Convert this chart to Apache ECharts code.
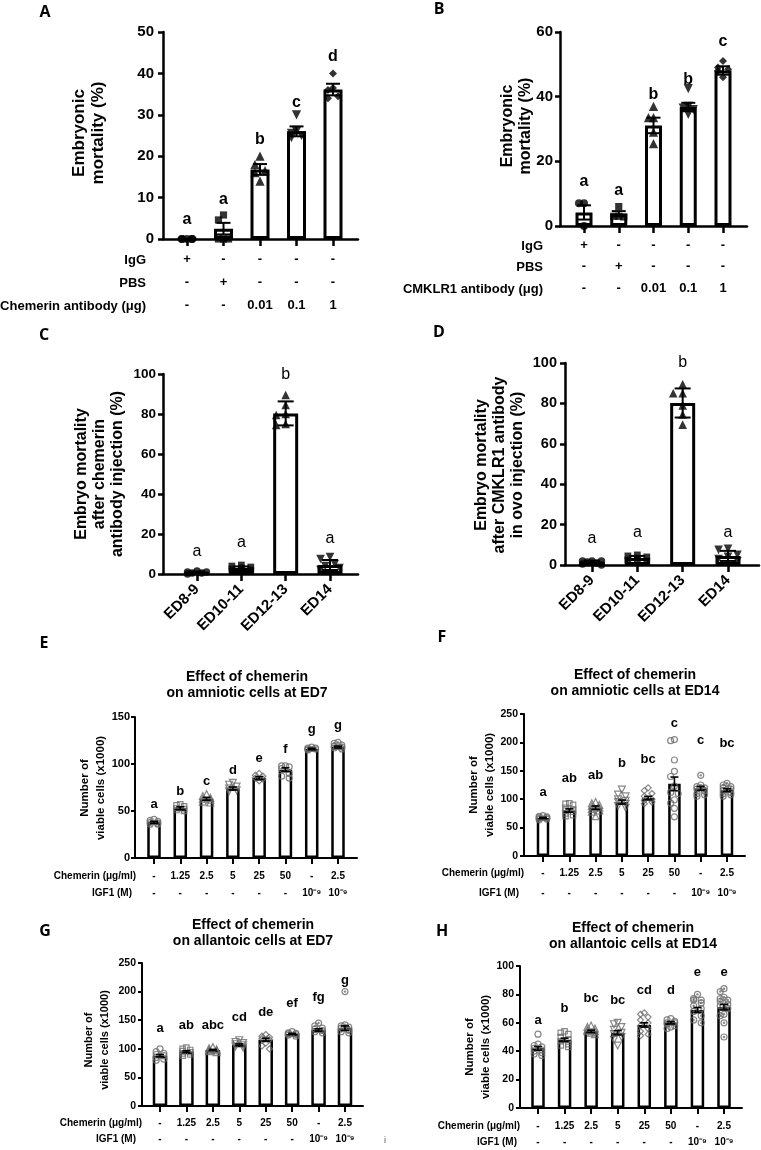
<!DOCTYPE html>
<html><head><meta charset="utf-8">
<script src="https://cdn.jsdelivr.net/npm/echarts@6.0.0/dist/echarts.min.js"></script>
<style>html,body{margin:0;padding:0;background:#fff}#c{width:761px;height:1150px}</style>
</head><body><div id="c"></div>
<script>
// ---------------- DATA ----------------
// Panel A
const aIgG = ['+','-','-','-','-'];
const aPBS = ['-','+','-','-','-'];
const aDose = ['-','-','0.01','0.1','1'];
const aMean = [0, 2.5, 16.8, 26.0, 36.1];
const aSem = [0, 1.4, 1.3, 1.2, 1.4];
const aPoints = [[0,0,0,0,0],[5.8,4.6,0,0,0],[20,18,16.5,16,14],[30,26,25.5,25,24.5],[40,36.5,36,34.5,34]];
const aLetters = ['a','a','b','c','d'];
const aLetterY = [4.6, 9.4, 23.9, 32.9, 44];
// Panel B
const bIgG = ['+','-','-','-','-'];
const bPBS = ['-','+','-','-','-'];
const bDose = ['-','-','0.01','0.1','1'];
const bMean = [4.2, 3.8, 31.1, 36.8, 48.1];
const bSem = [2.2, 0.8, 2.4, 1.3, 1.3];
const bPoints = [[7,7,0],[6,3,3,2.8],[37,33.5,33.5,29,25.5],[42.5,37,36.5,36,34.5],[51,49,48.5,48,46]];
const bLetters = ['a','a','b','b','c'];
const bLetterY = [13.6, 11.1, 40.5, 45.2, 56.9];
// Panel C
const cCats = ['ED8-9','ED10-11','ED12-13','ED14'];
const cMean = [0.8, 3, 80.3, 4.5];
const cSem = [0.4, 0.8, 6, 2.5];
const cPoints = [[1.5,1,1,0.5,0.5,0],[4.5,4,3.5,3,2.5,2],[89.5,84.5,80,79.5,75,74.5],[8.5,7.5,5,4,3,2]];
const cLetters = ['a','a','b','a'];
const cLetterY = [11, 15.5, 99.5, 17.5];
// Panel D
const dCats = ['ED8-9','ED10-11','ED12-13','ED14'];
const dMean = [1.5, 3.5, 80.2, 4.5];
const dSem = [0.6, 1, 7.2, 2.5];
const dPoints = [[2,2,2,1.5,1,0.5,0],[5,4.5,4,3,2.5,2],[89.5,85,85,79,74.5,69.5],[8,7.5,5,4,3,2]];
const dLetters = ['a','a','b','a'];
const dLetterY = [12.9, 15.8, 100, 15.8];
// Panels E-H shared rows
const chemDose = ['-','1.25','2.5','5','25','50','-','2.5'];
const igf1Dose = ['-','-','-','-','-','-','10⁻⁹','10⁻⁹'];
// Panel E
const eMean = [38, 53, 63, 74, 85, 94, 116, 118];
const eSem = [1, 1.5, 1.5, 1.5, 1.5, 2, 0.8, 1];
const ePoints = [[41,40,39,38,37,36,36],[57,56,55,53,52,51,50],[68,66,64,63,62,60,59],[80,78,76,74,72,71],[90,88,87,85,84,82],[98,98,97,95,90,87,85],[118,117,117,116,116,115],[123,122,120,119,118,117,116]];
const eLetters = ['a','b','c','d','e','f','g','g'];
const eLetterY = [57.4, 71.3, 81.9, 93.6, 106, 115, 137, 141.5];
// Panel F
const fMean = [67, 80, 85, 95, 102, 127, 119, 116];
const fSem = [1, 3, 3, 3.5, 3, 12, 3.5, 2.5];
const fPoints = [[71,70,69,68,67,66,65,64],[93,92,90,85,82,80,78,75,72,70],[95,93,90,88,85,83,80,78,70],[117,108,105,100,97,95,92,88,85],[120,115,110,105,100,98,95,92],[205,203,169,149,140,123,112,110,99,93,84,69],[142,125,122,120,118,115,110,108,105],[128,125,122,120,118,115,112,110,108,105]];
const fLetters = ['a','ab','ab','b','bc','c','c','bc'];
const fLetterY = [112.7, 137, 142.6, 163.7, 170.8, 234, 204, 199];
// Panel G
const gMean = [88, 95, 98, 107, 116, 126, 133, 136];
const gSem = [2, 1.5, 1, 1.5, 2.5, 1, 2, 4];
const gPoints = [[100,95,92,90,88,85,82,80],[102,100,98,96,94,92,90,88],[103,101,99,98,97,96,94],[115,112,110,108,106,104,102],[125,122,120,118,116,110,105,100],[130,128,127,126,125,124,122],[145,140,136,134,132,130,128],[200,142,140,138,136,133,130,128]];
const gLetters = ['a','ab','abc','cd','de','ef','fg','g'];
const gLetterY = [136, 141.6, 141.6, 155.6, 164, 180, 190.6, 220];
// Panel H
const hMean = [42, 48, 54, 53, 58.5, 60, 69, 71];
const hSem = [1.3, 1.2, 0.8, 1.5, 1.5, 0.8, 1.8, 2];
const hPoints = [[52,45,44,43,42,41,40,39,38,37],[54,53,52,50,48,47,45,44,43],[58,57,56,55,54,54,53,52],[60,59,57,55,53,52,50,48,44],[67,66,64,62,60,58,56,54,52,51],[63,62,61,60,60,59,58,57,56],[80,77,76,76,74,72,70,68,65,62,60],[84,82,78,77,76,75,73,72,70,66,65,60,50]];
const hLetters = ['a','b','bc','bc','cd','d','e','e'];
const hLetterY = [62, 70.4, 77.5, 76, 83, 83, 95.8, 95.8];

// ---------------- BUILD ----------------
const FONT = "'Liberation Sans', Arial, Helvetica, sans-serif";
const BLACK = '#000';
const grids = [], xAxes = [], yAxes = [], series = [], graphics = [];
const SYM = {circle:['circle',0], square:['rect',0], triangle:['triangle',0], invtri:['triangle',180], diamond:['diamond',0], circledot:['circle',0]};

function swarm(vals, ppu, d, maxOff) {
  const placed = [];
  return vals.map(v => {
    const y = v * ppu;
    let best = 0, bestCost = Infinity;
    for (let k = 0; k < 40; k++) {
      const off = k === 0 ? 0 : (k % 2 ? -1 : 1) * Math.ceil(k / 2) * d * 0.6;
      if (Math.abs(off) > maxOff) break;
      let cost = 0;
      for (const p of placed) {
        const dist = Math.hypot(off - p[0], y - p[1]);
        if (dist < d) cost += d - dist;
      }
      if (cost === 0) { best = off; bestCost = 0; break; }
      if (cost < bestCost) { bestCost = cost; best = off; }
    }
    placed.push([best, y]);
    return best;
  });
}

function addPanel(p) {
  const H = p.zero - p.top;
  const n = p.mean.length;
  const band = (p.cEnd - p.cStart) / (n - 1);
  const gF = grids.length;
  grids.push({left: p.yx, top: p.top, width: p.xEnd - p.yx, height: H, containLabel: false, outerBoundsMode: 'none'});
  const gD = grids.length;
  grids.push({left: p.cStart - band / 2, top: p.top, width: band * n, height: H, containLabel: false, outerBoundsMode: 'none'});
  xAxes.push({gridIndex: gF, type: 'value', min: 0, max: 1, position: 'bottom',
    axisLine: {show: true, onZero: false, lineStyle: {color: BLACK, width: p.lw}},
    axisTick: {show: false}, axisLabel: {show: false}, splitLine: {show: false}});
  yAxes.push({gridIndex: gF, type: 'value', min: 0, max: p.max, interval: p.interval, position: 'left',
    axisLine: {show: true, onZero: false, lineStyle: {color: BLACK, width: p.lw}},
    axisTick: {show: true, length: p.yTickLen, lineStyle: {color: BLACK, width: p.lw}},
    axisLabel: {color: BLACK, fontFamily: FONT, fontWeight: 'bold', fontSize: p.tickFs, margin: p.tickMargin},
    splitLine: {show: false}});
  const xi = xAxes.length;
  p.rows.forEach((row, r) => {
    xAxes.push({gridIndex: gD, type: 'category', data: row, position: 'bottom', offset: p.rowOffsets[r],
      axisLine: {show: false, onZero: false},
      axisTick: r === 0 ? {show: true, alignWithLabel: true, length: p.xTickLen, lineStyle: {color: BLACK, width: p.lw}} : {show: false},
      axisLabel: {interval: 0, color: BLACK, fontFamily: FONT, fontWeight: 'bold', fontSize: p.rowFs, margin: p.rowMargin, rotate: p.rotate || 0},
      splitLine: {show: false}});
  });
  const yi = yAxes.length;
  yAxes.push({gridIndex: gD, type: 'value', min: 0, max: p.max, show: false});

  series.push({type: 'bar', xAxisIndex: xi, yAxisIndex: yi, data: p.mean, barWidth: p.barW,
    itemStyle: {color: '#fff', borderColor: BLACK, borderWidth: p.bw}, z: 2, silent: true, animation: false});

  const pts = [], dots = [];
  const ppu = H / p.max;
  p.points.forEach((vals, i) => {
    const offs = swarm(vals, ppu, p.symSize * 1.05, p.maxOff);
    const m = p.markers[i];
    const [sym, rot] = SYM[m];
    const size = sym === 'triangle' ? p.symSize * 1.15 : (sym === 'rect' ? p.symSize * 0.9 : p.symSize);
    vals.forEach((v, k) => {
      pts.push({value: [i, v], symbol: sym, symbolRotate: rot, symbolSize: size, symbolOffset: [offs[k], 0],
        itemStyle: p.open ? {color: 'rgba(255,255,255,0)', borderColor: p.openColor, borderWidth: 1.2} : {color: BLACK, borderWidth: 0}});
      if (m === 'circledot') dots.push({value: [i, v], symbol: 'circle', symbolSize: 2.4, symbolOffset: [offs[k], 0], itemStyle: {color: p.openColor}});
    });
  });
  series.push({type: 'scatter', xAxisIndex: xi, yAxisIndex: yi, data: pts, z: 3, silent: true, animation: false});
  if (dots.length) series.push({type: 'scatter', xAxisIndex: xi, yAxisIndex: yi, data: dots, z: 3, silent: true, animation: false});

  series.push({type: 'custom', xAxisIndex: xi, yAxisIndex: yi, z: 4, silent: true, animation: false,
    dimensions: ['x', 'y', 'e'], encode: {x: 0, y: 1},
    data: p.mean.map((m, i) => [i, m, p.sem[i]]),
    renderItem: (params, api) => {
      const i = api.value(0), m = api.value(1), e = api.value(2);
      if (!e) return null;
      const t = api.coord([i, m + e]), b = api.coord([i, m - e]);
      const hw = p.capW / 2;
      const st = {stroke: BLACK, lineWidth: p.ebw};
      return {type: 'group', children: [
        {type: 'line', shape: {x1: t[0], y1: t[1], x2: b[0], y2: b[1]}, style: st},
        {type: 'line', shape: {x1: t[0] - hw, y1: t[1], x2: t[0] + hw, y2: t[1]}, style: st},
        {type: 'line', shape: {x1: b[0] - hw, y1: b[1], x2: b[0] + hw, y2: b[1]}, style: st}]};
    }});

  series.push({type: 'custom', xAxisIndex: xi, yAxisIndex: yi, z: 5, silent: true, animation: false,
    encode: {x: 0, y: 1},
    data: p.letterY.map((v, i) => [i, v]),
    renderItem: (params, api) => {
      const c = api.coord([api.value(0), api.value(1)]);
      return {type: 'text', x: c[0], y: c[1], style: {text: p.letters[params.dataIndex], font: p.letterFont, fill: BLACK,
        align: 'center', verticalAlign: 'middle', textAlign: 'center', textVerticalAlign: 'middle'}};
    }});
}

function txt(x, y, text, font, opts) {
  opts = opts || {};
  graphics.push({type: 'text', x: x, y: y, rotation: opts.rot || 0, silent: true,
    style: {text: text, font: font, fill: opts.fill || BLACK, lineHeight: opts.lh,
      align: opts.align || 'center', verticalAlign: 'middle', textAlign: opts.align || 'center', textVerticalAlign: 'middle'}});
}

const filled5 = ['circle','square','triangle','invtri','diamond'];
const filled4 = ['circle','square','triangle','invtri'];
const open8 = ['circle','square','triangle','invtri','diamond','circle','circledot','circledot'];

const bigCommon = {lw: 2.5, bw: 3, yTickLen: 5, xTickLen: 7, tickFs: 15, open: false, ebw: 2, capW: 14};
const smallCommon = {lw: 2, bw: 2.5, yTickLen: 4, xTickLen: 6, tickFs: 10.5, tickMargin: 6, rowFs: 10, open: true, openColor: '#6a6a6a', ebw: 1.6, capW: 8, symSize: 6, maxOff: 6, markers: open8, letterFont: 'bold 13px ' + FONT};

addPanel(Object.assign({}, bigCommon, {yx: 163, xEnd: 358, top: 32, zero: 239, max: 50, interval: 10, cStart: 187, cEnd: 333, barW: 19,
  tickMargin: 9, rows: [aIgG, aPBS, aDose], rowOffsets: [0, 23, 46], rowFs: 13, rowMargin: 14,
  mean: aMean, sem: aSem, points: aPoints, markers: filled5, symSize: 8, maxOff: 10,
  letters: aLetters, letterY: aLetterY, letterFont: 'bold 16px ' + FONT}));
addPanel(Object.assign({}, bigCommon, {yx: 560, xEnd: 747, top: 32, zero: 226, max: 60, interval: 20, cStart: 584, cEnd: 723, barW: 17,
  tickMargin: 7, rows: [bIgG, bPBS, bDose], rowOffsets: [0, 21, 43], rowFs: 13, rowMargin: 13,
  mean: bMean, sem: bSem, points: bPoints, markers: filled5, symSize: 8, maxOff: 10,
  letters: bLetters, letterY: bLetterY, letterFont: 'bold 16px ' + FONT}));
addPanel(Object.assign({}, bigCommon, {yx: 163, xEnd: 358, top: 374, zero: 574, max: 100, interval: 20, cStart: 197, cEnd: 330, barW: 25,
  tickFs: 13.5, tickMargin: 7, rows: [cCats], rowOffsets: [0], rowFs: 15, rowMargin: 13, rotate: 45, capW: 16,
  mean: cMean, sem: cSem, points: cPoints, markers: filled4, symSize: 7.5, maxOff: 12,
  letters: cLetters, letterY: cLetterY, letterFont: '16px ' + FONT}));
addPanel(Object.assign({}, bigCommon, {yx: 565, xEnd: 759, top: 363, zero: 565, max: 100, interval: 20, cStart: 592, cEnd: 728, barW: 25,
  tickFs: 14.5, tickMargin: 8, rows: [dCats], rowOffsets: [0], rowFs: 15, rowMargin: 13, rotate: 45, capW: 16,
  mean: dMean, sem: dSem, points: dPoints, markers: filled4, symSize: 7.5, maxOff: 12,
  letters: dLetters, letterY: dLetterY, letterFont: '16px ' + FONT}));
addPanel(Object.assign({}, smallCommon, {yx: 135, xEnd: 357, top: 717, zero: 858, max: 150, interval: 50, cStart: 154, cEnd: 338, barW: 13.5,
  tickFs: 11, tickMargin: 5, rows: [chemDose, igf1Dose], rowOffsets: [0, 17], rowMargin: 13,
  mean: eMean, sem: eSem, points: ePoints, letters: eLetters, letterY: eLetterY}));
addPanel(Object.assign({}, smallCommon, {yx: 524, xEnd: 745, top: 714, zero: 856, max: 250, interval: 50, cStart: 543, cEnd: 727, barW: 12.5,
  rows: [chemDose, igf1Dose], rowOffsets: [0, 20], rowMargin: 12,
  mean: fMean, sem: fSem, points: fPoints, letters: fLetters, letterY: fLetterY}));
addPanel(Object.assign({}, smallCommon, {yx: 142, xEnd: 363, top: 963, zero: 1106, max: 250, interval: 50, cStart: 160, cEnd: 345, barW: 14.5,
  rows: [chemDose, igf1Dose], rowOffsets: [0, 16], rowMargin: 12,
  mean: gMean, sem: gSem, points: gPoints, letters: gLetters, letterY: gLetterY}));
addPanel(Object.assign({}, smallCommon, {yx: 520, xEnd: 742, top: 966, zero: 1108, max: 100, interval: 20, cStart: 538, cEnd: 724, barW: 13.5,
  rows: [chemDose, igf1Dose], rowOffsets: [0, 16], rowMargin: 13,
  mean: hMean, sem: hSem, points: hPoints, letters: hLetters, letterY: hLetterY}));

// panel letters
const PL = "bold 16px 'Open Sans', 'Noto Sans', sans-serif";
txt(45, 12, 'A', PL); txt(439, 9, 'B', PL); txt(44, 335, 'C', PL); txt(439, 332, 'D', PL);
txt(44, 643, 'E', PL); txt(442, 637, 'F', PL); txt(45, 931, 'G', PL); txt(442, 931, 'H', PL);
// y titles
const R = Math.PI / 2;
txt(89, 133, 'Embryonic\nmortality (%)', 'bold 17px ' + FONT, {rot: R, lh: 19});
txt(517, 126, 'Embryonic\nmortality (%)', 'bold 16px ' + FONT, {rot: R, lh: 18});
txt(100, 474, 'Embryo mortality\nafter chemerin\nantibody injection (%)', 'bold 16px ' + FONT, {rot: R, lh: 18});
txt(500, 465, 'Embryo mortality\nafter CMKLR1 antibody\nin ovo injection (%)', 'bold 16px ' + FONT, {rot: R, lh: 18});
txt(93, 788, 'Number of\nviable cells (x1000)', 'bold 11.5px ' + FONT, {rot: R, lh: 16});
txt(482, 785, 'Number of\nviable cells (x1000)', 'bold 11.5px ' + FONT, {rot: R, lh: 16});
txt(97, 1040, 'Number of\nviable cells (x1000)', 'bold 11px ' + FONT, {rot: R, lh: 16});
txt(478, 1047, 'Number of\nviable cells (x1000)', 'bold 11.5px ' + FONT, {rot: R, lh: 16});
// chart titles
const TF = 'bold 14px ' + FONT;
txt(247, 685, 'Effect of chemerin\non amniotic cells at ED7', TF, {lh: 16});
txt(635, 683, 'Effect of chemerin\non amniotic cells at ED14', TF, {lh: 16});
txt(253, 933, 'Effect of chemerin\non allantoic cells at ED7', TF, {lh: 16});
txt(633, 936, 'Effect of chemerin\non allantoic cells at ED14', TF, {lh: 16});
// row names
const RF = 'bold 13px ' + FONT, RS = 'bold 10px ' + FONT;
txt(146, 260, 'IgG', RF, {align: 'right'}); txt(146, 283, 'PBS', RF, {align: 'right'}); txt(146, 306, 'Chemerin antibody (μg)', RF, {align: 'right'});
txt(543, 246, 'IgG', RF, {align: 'right'}); txt(543, 267, 'PBS', RF, {align: 'right'}); txt(543, 289, 'CMKLR1 antibody (μg)', RF, {align: 'right'});
txt(136, 876, 'Chemerin (μg/ml)', RS, {align: 'right'}); txt(132, 893, 'IGF1 (M)', RS, {align: 'right'});
txt(524, 873, 'Chemerin (μg/ml)', RS, {align: 'right'}); txt(519, 893, 'IGF1 (M)', RS, {align: 'right'});
txt(142, 1123, 'Chemerin (μg/ml)', RS, {align: 'right'}); txt(136, 1139, 'IGF1 (M)', RS, {align: 'right'});
txt(520, 1126, 'Chemerin (μg/ml)', RS, {align: 'right'}); txt(517, 1142, 'IGF1 (M)', RS, {align: 'right'});
txt(385, 1141, 'i', '9px ' + FONT, {fill: '#555'});

const chart = echarts.init(document.getElementById('c'), null, {renderer: 'canvas'});
chart.setOption({animation: false, backgroundColor: '#fff', grid: grids, xAxis: xAxes, yAxis: yAxes, series: series, graphic: graphics});
</script></body></html>
